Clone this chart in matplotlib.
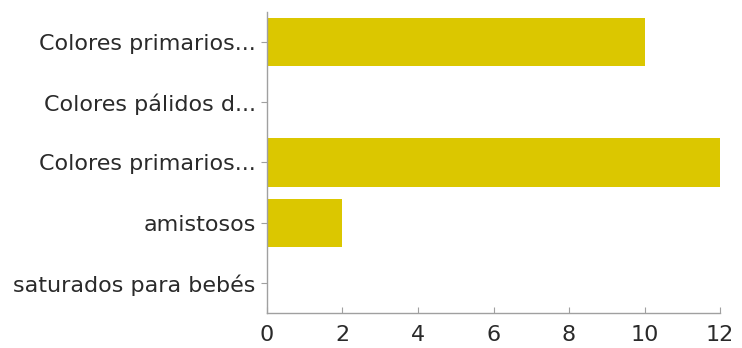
import matplotlib
matplotlib.use("Agg")
import matplotlib.pyplot as plt

categories = ["Colores primarios...", "Colores pálidos d...", "Colores primarios...",
              "amistosos", "saturados para bebés"]
values = [10, 0, 12, 2, 0]
xticks = [0, 2, 4, 6, 8, 10, 12]

plt.rcParams["font.family"] = ["DejaVu Sans"]

fig = plt.figure(figsize=(7.42, 3.48), dpi=100)
ax = fig.add_axes([0.3598, 0.1006, 0.6106, 0.8649])

ax.barh(range(len(categories)), values, height=0.8, color="#DBC700")
ax.set_ylim(len(categories) - 0.5, -0.5)
ax.set_xlim(0, 12)
ax.set_yticks(range(len(categories)))
ax.set_yticklabels(categories)
ax.set_xticks(xticks)

for s in ["top", "right"]:
    ax.spines[s].set_visible(False)
for s in ["left", "bottom"]:
    ax.spines[s].set_color("#a0a0a0")
    ax.spines[s].set_linewidth(1.0)

ax.tick_params(axis="y", length=4, color="#a0a0a0", labelsize=16, labelcolor="#2a2a2a", pad=4)
ax.tick_params(axis="x", length=4, direction="in", color="#a0a0a0", labelsize=16, labelcolor="#2a2a2a", pad=9)

fig.savefig("out.png", dpi=100)
